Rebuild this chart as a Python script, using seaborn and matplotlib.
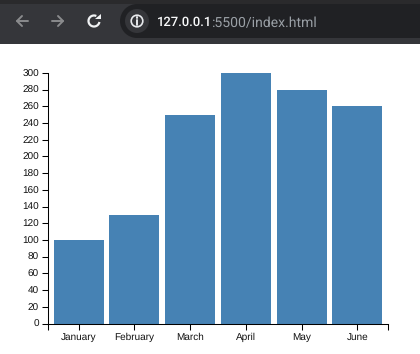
import matplotlib
matplotlib.use("Agg")
import matplotlib.pyplot as plt
import seaborn as sns
from matplotlib.lines import Line2D
from matplotlib.patches import Arc, Circle, Polygon, Rectangle

months = ["January", "February", "March", "April", "May", "June"]
values = [100, 130, 250, 300, 280, 260]
y_ticks = list(range(0, 301, 20))
url_host = "127.0.0.1"
url_rest = ":5500/index.html"

W, H = 420, 354
sns.set_theme(style="white")
plt.rcParams["font.family"] = ["Liberation Sans", "DejaVu Sans"]
plt.rcParams["text.hinting"] = "no_hinting"
plt.rcParams["text.hinting_factor"] = 1
fig = plt.figure(figsize=(W / 100, H / 100), dpi=100, facecolor="white")

# browser toolbar, in pixel coordinates
bar = fig.add_axes([0, 0, 1, 1], zorder=0)
bar.set_xlim(0, W)
bar.set_ylim(H, 0)
bar.axis("off")
bar.add_patch(Rectangle((0, 0), W, 44, fc="#35363a", ec="none"))
bar.add_patch(Rectangle((0, 0), W, 4, fc="#2a2a2c", ec="none"))
bar.add_patch(Rectangle((137, 4), 300, 34, fc="#202124", ec="none"))
bar.add_patch(Circle((137, 21), 17, fc="#202124", ec="none"))
bar.add_patch(Circle((137, 21), 12, fc="#35363a", ec="none"))

# back / forward arrows
for x0, x1, tip in [(28, 17, -1), (52, 63, 1)]:
    bar.add_line(Line2D([x0, x1], [21, 21], color="#8a8b8d", lw=1.4))
    bar.add_line(Line2D([x1 - tip * 5, x1, x1 - tip * 5], [16, 21, 26], color="#8a8b8d", lw=1.4))

# reload icon
bar.add_patch(Arc((94, 21), 11, 11, theta1=10, theta2=295, ec="#f1f3f4", lw=1.6))
bar.add_patch(Polygon([[95, 18.5], [100.5, 18.5], [100.5, 13.5]], fc="#f1f3f4", ec="none"))

# site info icon
bar.add_patch(Circle((137, 21), 5.8, fc="none", ec="#e8eaed", lw=1.2))
bar.add_line(Line2D([137, 137], [20, 25], color="#e8eaed", lw=1.4))
bar.add_line(Line2D([137, 137], [17, 18.4], color="#e8eaed", lw=1.4))

host = bar.text(157, 21, url_host, color="#f8f9fa", fontsize=9.7, family="Roboto",
                weight="medium", va="center_baseline", ha="left")
bar.annotate(url_rest, xy=(0.98, 0.5), xycoords=host, color="#9aa0a6", fontsize=10,
             family="Roboto", va="center_baseline", ha="left")

# chart
left, right, top, bottom = 48, 388, 73, 323.5
ax = fig.add_axes([left / W, 1 - bottom / H, (right - left) / W, (bottom - top) / H], zorder=1)
ax.patch.set_alpha(0)
sns.barplot(x=months, y=values, color="steelblue", saturation=1, width=0.9, linewidth=0, ax=ax)
ax.set_xlim(-0.55, 5.55)
ax.set_ylim(0, 300)
ax.set_yticks(y_ticks)
ax.set_xticks(range(len(months)))
ax.set_xticks([-0.55, 5.55], minor=True)
ax.set_xlabel("")
ax.set_ylabel("")
ax.tick_params(axis="both", which="both", length=4.3, width=0.75, color="black",
               direction="out", bottom=True, left=True, pad=2.2, labelsize=7.2, labelcolor="#111111")
sns.despine(ax=ax)
for side in ["left", "bottom"]:
    ax.spines[side].set_linewidth(0.75)
    ax.spines[side].set_color("black")

fig.savefig("out.png", dpi=100)
